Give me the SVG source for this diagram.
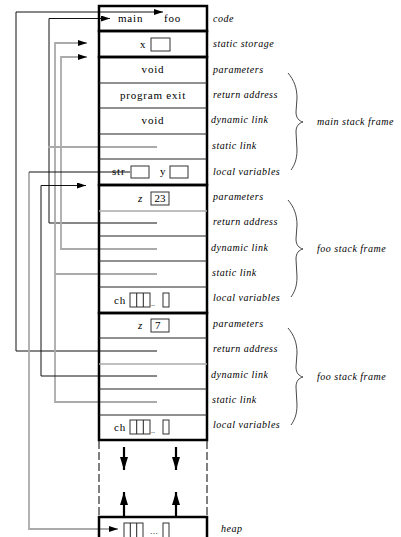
<svg xmlns="http://www.w3.org/2000/svg" width="401" height="537" viewBox="0 0 401 537">
<defs>
<style>
.box{fill:none;stroke:#000;stroke-width:2.5}
.sep{stroke:#222;stroke-width:1}
.sepg{stroke:#aaa;stroke-width:1.5}
.cell{fill:#fff;stroke:#333;stroke-width:1}
.lk{fill:none;stroke:#111;stroke-width:1}
.lg{fill:none;stroke:#aaa;stroke-width:1.8}
.t{font-family:"Liberation Serif",serif;font-size:11px;letter-spacing:0.8px;fill:#000}
.ti{font-family:"Liberation Serif",serif;font-size:11px;font-style:italic;fill:#000}
.lab{font-family:"Liberation Serif",serif;font-size:10px;font-style:italic;letter-spacing:0.5px;fill:#000}
.brace{fill:none;stroke:#333;stroke-width:0.9}
.big{fill:none;stroke:#000;stroke-width:2.2}
.dash{fill:none;stroke:#000;stroke-width:1;stroke-dasharray:8 3}
</style>
<marker id="ah" markerUnits="userSpaceOnUse" markerWidth="10" markerHeight="6" refX="9" refY="3" orient="auto">
<path d="M0,0 L9,3 L0,6 Z" fill="#000"/>
</marker>
<marker id="bh" markerUnits="userSpaceOnUse" markerWidth="14" markerHeight="8" refX="13" refY="4" orient="auto">
<path d="M0,0 L13,4 L0,8 Z" fill="#000"/>
</marker>
<path id="br" d="M288,73 C294,80 297,88 297,98 L296,112 C296,118 299,121 303,122 C299,123 296,126 296,132 L297,150 C297,160 294,166 291,170"/>
</defs>

<g id="connectors">
<path class="lk" d="M157,351 H16 V12 H163" marker-end="url(#ah)"/>
<path class="lk" d="M157,223 H49 V18.5 H110" marker-end="url(#ah)"/>
<path class="lg" d="M157,249 H61 V57 H87" marker-end="url(#ah)"/>
<path class="lg" d="M157,402 H55 V43 H87" marker-end="url(#ah)"/>
<path class="lg" d="M55,274 H157"/>
<path class="lg" d="M48,147 H157"/>
<path class="lk" d="M157,376 H41 V185.5 H86" marker-end="url(#ah)"/>
<path class="lg" d="M29,172 V529 H118" marker-end="url(#ah)"/>
<path class="lk" d="M29,172 H130"/>
</g>

<g id="code">
<rect class="box" x="99" y="6" width="108" height="25"/>
<text class="t" x="118" y="22">main</text>
<text class="t" x="164" y="22">foo</text>
</g>

<g id="static">
<rect class="box" x="99" y="31" width="108" height="26"/>
<text class="t" x="140" y="48">x</text>
<rect class="cell" x="151" y="38" width="19" height="13"/>
</g>

<g id="main-frame">
<rect class="box" x="99" y="57" width="108" height="128"/>
<line class="sep" x1="99" y1="83" x2="207" y2="83"/>
<line class="sep" x1="99" y1="108" x2="207" y2="108"/>
<line class="sep" x1="99" y1="134" x2="207" y2="134"/>
<line class="sep" x1="99" y1="159" x2="207" y2="159"/>
<text class="t" x="153" y="73" text-anchor="middle">void</text>
<text class="t" x="153" y="99" text-anchor="middle">program exit</text>
<text class="t" x="153" y="124" text-anchor="middle">void</text>
<text class="t" x="112" y="175">str</text>
<rect class="cell" x="131" y="166" width="18" height="12"/>
<text class="t" x="160" y="175">y</text>
<rect class="cell" x="170" y="166" width="18" height="12"/>
</g>

<g id="foo-frame-1">
<rect class="box" x="99" y="185" width="108" height="128"/>
<line class="sepg" x1="99" y1="211" x2="207" y2="211"/>
<line class="sep" x1="99" y1="236" x2="207" y2="236"/>
<line class="sep" x1="99" y1="261" x2="207" y2="261"/>
<line class="sep" x1="99" y1="287" x2="207" y2="287"/>
<text class="ti" x="138" y="202">z</text>
<rect class="cell" x="151" y="192" width="18" height="13"/>
<text class="t" x="160" y="202" text-anchor="middle" style="letter-spacing:0">23</text>
<text class="t" x="114" y="304">ch</text>
<rect class="cell" x="130" y="293" width="20" height="14"/>
<line class="sep" x1="136.7" y1="293" x2="136.7" y2="307"/>
<line class="sep" x1="143.3" y1="293" x2="143.3" y2="307"/>
<text class="t" x="151" y="306" style="font-size:8px;letter-spacing:0">..</text>
<rect class="cell" x="163" y="293" width="6" height="14"/>
</g>

<g id="foo-frame-2">
<rect class="box" x="99" y="313" width="108" height="127"/>
<line class="sep" x1="99" y1="338" x2="207" y2="338"/>
<line class="sepg" x1="99" y1="364" x2="207" y2="364"/>
<line class="sep" x1="99" y1="389" x2="207" y2="389"/>
<line class="sep" x1="99" y1="415" x2="207" y2="415"/>
<text class="ti" x="138" y="329">z</text>
<rect class="cell" x="151" y="319" width="18" height="13"/>
<text class="t" x="155" y="329" style="letter-spacing:0">7</text>
<text class="t" x="114" y="431">ch</text>
<rect class="cell" x="130" y="420" width="20" height="14"/>
<line class="sep" x1="136.7" y1="420" x2="136.7" y2="434"/>
<line class="sep" x1="143.3" y1="420" x2="143.3" y2="434"/>
<text class="t" x="151" y="433" style="font-size:8px;letter-spacing:0">..</text>
<rect class="cell" x="163" y="420" width="6" height="14"/>
</g>

<g id="free-space">
<line class="dash" x1="99" y1="441" x2="99" y2="516"/>
<line class="dash" x1="207" y1="441" x2="207" y2="516"/>
<line class="big" x1="124" y1="447" x2="124" y2="470" marker-end="url(#bh)"/>
<line class="big" x1="176" y1="447" x2="176" y2="470" marker-end="url(#bh)"/>
<line class="big" x1="124" y1="517" x2="124" y2="492" marker-end="url(#bh)"/>
<line class="big" x1="176" y1="517" x2="176" y2="492" marker-end="url(#bh)"/>
</g>

<g id="heap">
<rect class="box" x="99" y="517" width="108" height="30"/>
<rect class="cell" x="124" y="523" width="19" height="15"/>
<line class="sep" x1="130.3" y1="523" x2="130.3" y2="538"/>
<line class="sep" x1="136.7" y1="523" x2="136.7" y2="538"/>
<text class="t" x="150" y="534" style="font-size:9px;letter-spacing:0.5px">...</text>
<rect class="cell" x="163" y="523" width="6" height="15"/>
</g>

<g id="labels">
<text class="lab" x="213" y="22">code</text>
<text class="lab" x="213" y="47">static storage</text>
<text class="lab" x="213" y="73">parameters</text>
<text class="lab" x="213" y="98">return address</text>
<text class="lab" x="211" y="123">dynamic link</text>
<text class="lab" x="212" y="149">static link</text>
<text class="lab" x="213" y="175">local variables</text>
<text class="lab" x="213" y="200">parameters</text>
<text class="lab" x="213" y="225">return address</text>
<text class="lab" x="211" y="251">dynamic link</text>
<text class="lab" x="212" y="276">static link</text>
<text class="lab" x="213" y="301">local variables</text>
<text class="lab" x="213" y="327">parameters</text>
<text class="lab" x="213" y="352">return address</text>
<text class="lab" x="211" y="378">dynamic link</text>
<text class="lab" x="212" y="403">static link</text>
<text class="lab" x="213" y="428">local variables</text>
<text class="lab" x="221" y="532">heap</text>
</g>

<g id="brace-main">
<use href="#br" class="brace"/>
<text class="lab" x="317" y="125">main stack frame</text>
</g>
<g id="brace-foo-1">
<use href="#br" class="brace" transform="translate(0,127)"/>
<text class="lab" x="317" y="252">foo stack frame</text>
</g>
<g id="brace-foo-2">
<use href="#br" class="brace" transform="translate(0,255)"/>
<text class="lab" x="317" y="380">foo stack frame</text>
</g>
</svg>
